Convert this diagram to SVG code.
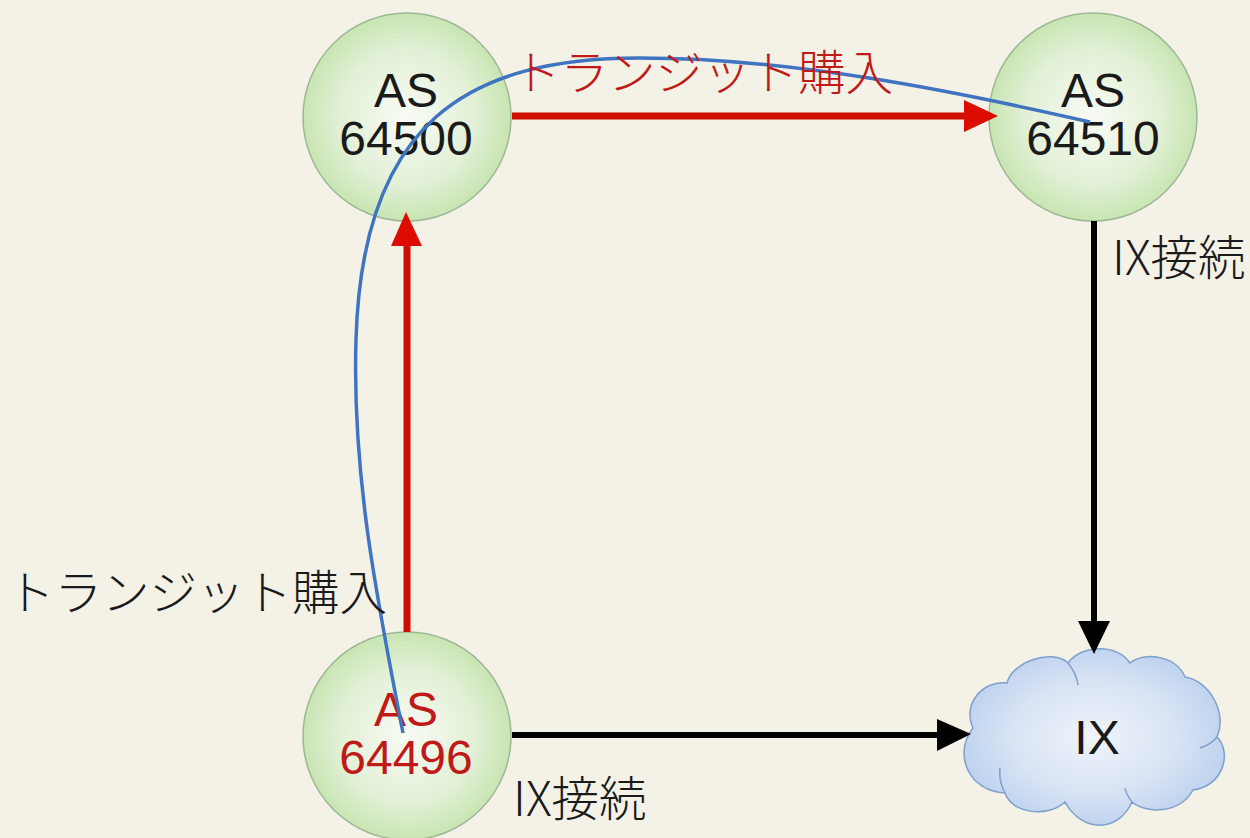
<svg xmlns="http://www.w3.org/2000/svg" width="1250" height="838" viewBox="0 0 1250 838">
<defs>
<radialGradient id="g" cx="50%" cy="50%" r="50%"><stop offset="0" stop-color="#f8fbf5"/><stop offset="0.65" stop-color="#e2f0d6"/><stop offset="1" stop-color="#c8e5b2"/></radialGradient>
<radialGradient id="c" cx="50%" cy="50%" r="58%"><stop offset="0" stop-color="#f0f4fb"/><stop offset="0.55" stop-color="#d8e3f4"/><stop offset="1" stop-color="#b6cdee"/></radialGradient>
</defs>
<style>
text{font-family:"Noto Sans CJK JP","Liberation Sans",sans-serif;font-weight:300}
.as{font-family:"Liberation Sans",sans-serif;font-size:48px;text-anchor:middle;font-weight:400}
.l{font-size:47.5px}
.n{fill:url(#g);stroke:#9db896;stroke-width:1.5}
.cl{fill:none;stroke:#7f9fcc;stroke-width:1.5}
</style>
<rect width="1250" height="838" fill="#f4f1e7"/>
<g id="n1"><circle class="n" cx="407" cy="117" r="104"/><text class="as" x="406" y="107" fill="#1a1a1a">AS</text><text class="as" x="406" y="155" fill="#1a1a1a">64500</text></g>
<g id="n2"><circle class="n" cx="1093" cy="117" r="104"/><text class="as" x="1093" y="107" fill="#1a1a1a">AS</text><text class="as" x="1093" y="155" fill="#1a1a1a">64510</text></g>
<g id="n3"><circle class="n" cx="407" cy="736" r="104"/><text class="as" x="406" y="726" fill="#c01a18">AS</text><text class="as" x="406" y="774" fill="#c01a18">64496</text></g>
<g id="n4"><path d="M1007 683C1012 662 1052 648 1068 663C1082 644 1118 644 1130 663C1146 651 1176 656 1185 677C1208 680 1228 712 1217 737C1232 752 1224 786 1193 790C1180 814 1146 814 1132 802C1118 833 1082 833 1065 802C1048 818 1012 814 1005 793C970 792 952 755 973 728C962 705 982 680 1007 683Z" class="cl" style="fill:url(#c)"/><path class="cl" d="M1068 663C1072 668 1077 676 1078 685M1217 737C1213 742 1207 746 1200 748M1000 768C999 778 1001 786 1005 793M1125 788C1126 794 1129 798 1132 802"/><text class="as" x="1097" y="754" fill="#1a1a1a">IX</text></g>
<g id="connectors" fill="none">
<path d="M512 116H966" stroke="#cf0f00" stroke-width="7"/><path d="M964 100L998 116L964 132Z" fill="#dc0d00"/>
<path d="M407 632V244" stroke="#cf0f00" stroke-width="7"/><path d="M391 246L406 212L422 246Z" fill="#dc0d00"/>
<path d="M1094 221V624" stroke="#000" stroke-width="6"/><path d="M1078 621L1094 654L1110 621Z" fill="#000"/>
<path d="M512 735H940" stroke="#000" stroke-width="6"/><path d="M937 719L971 734L937 751Z" fill="#000"/>
<path d="M403 733C375 590 352 470 356 340C362 120 470 58 640 58C790 58 950 90 1090 122" stroke="#3f74c0" stroke-width="3.5"/>
</g>
<text class="l" x="513" y="90" fill="#c01a18">トランジット購入</text>
<text class="l" x="7" y="610" fill="#1a1a1a">トランジット購入</text>
<text class="l" x="1112" y="275" fill="#1a1a1a">IX接続</text>
<text class="l" x="513" y="816" fill="#1a1a1a">IX接続</text>
</svg>
